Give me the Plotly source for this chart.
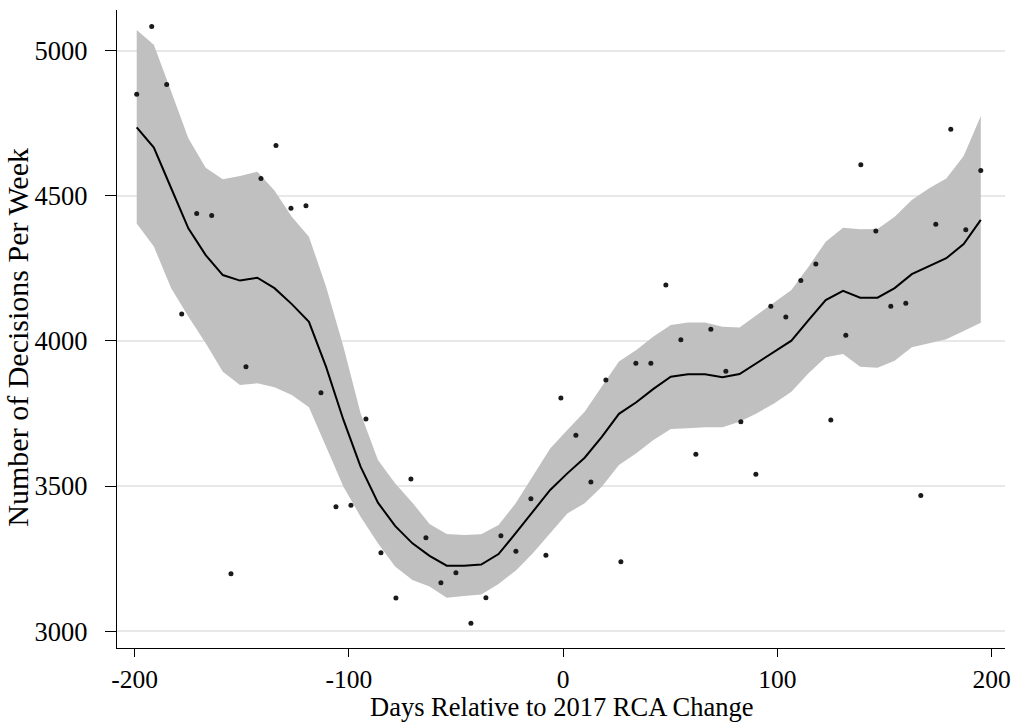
import plotly.graph_objects as go

# Weekly scatter observations
days = [-199, -192, -185, -178, -171, -164, -155, -148, -141, -134,
        -127, -120, -113, -106, -99, -92, -85, -78, -71, -64,
        -57, -50, -43, -36, -29, -22, -15, -8, -1, 6,
        13, 20, 27, 34, 41, 48, 55, 62, 69, 76,
        83, 90, 97, 104, 111, 118, 125, 132, 139, 146,
        153, 160, 167, 174, 181, 188, 195]
decisions = [4850, 5083, 4883, 4093, 4439, 4432, 3198, 3911, 4560, 4673,
             4457, 4466, 3822, 3429, 3434, 3731, 3271, 3115, 3525, 3322,
             3167, 3202, 3028, 3116, 3329, 3276, 3457, 3262, 3804, 3675,
             3514, 3866, 3240, 3923, 3923, 4193, 4004, 3610, 4040, 3896,
             3722, 3541, 4120, 4083, 4208, 4265, 3728, 4020, 4607, 4379,
             4120, 4130, 3468, 4402, 4729, 4383, 4587]

# Local polynomial fit grid (50 points) with confidence band
grid = [-199.0, -191.0, -182.9, -174.9, -166.8, -158.8, -150.8, -142.7, -134.7, -126.6,
        -118.6, -110.6, -102.5, -94.5, -86.4, -78.4, -70.3, -62.3, -54.3, -46.2,
        -38.2, -30.1, -22.1, -14.1, -6.0, 2.0, 10.1, 18.1, 26.1, 34.2,
        42.2, 50.3, 58.3, 66.3, 74.4, 82.4, 90.5, 98.5, 106.6, 114.6,
        122.6, 130.7, 138.7, 146.8, 154.8, 162.8, 170.9, 178.9, 187.0, 195.0]
fit = [4736, 4666, 4526, 4388, 4296, 4227, 4208, 4218, 4182, 4127,
       4066, 3911, 3728, 3567, 3443, 3363, 3303, 3260, 3226, 3226,
       3230, 3266, 3338, 3412, 3487, 3544, 3598, 3670, 3749, 3789,
       3835, 3877, 3885, 3885, 3875, 3886, 3925, 3963, 4001, 4072,
       4141, 4173, 4149, 4149, 4182, 4230, 4259, 4285, 4334, 4417]
ci_upper = [5071, 5020, 4859, 4698, 4597, 4557, 4568, 4583, 4518, 4428,
            4359, 4187, 3980, 3751, 3590, 3510, 3443, 3370, 3335, 3332,
            3334, 3366, 3441, 3533, 3630, 3693, 3756, 3843, 3929, 3969,
            4015, 4055, 4064, 4064, 4049, 4046, 4090, 4132, 4176, 4256,
            4342, 4390, 4385, 4386, 4428, 4486, 4526, 4560, 4637, 4775]
ci_lower = [4405, 4325, 4182, 4084, 3992, 3894, 3848, 3854, 3841, 3814,
            3772, 3636, 3498, 3395, 3303, 3223, 3177, 3154, 3116, 3122,
            3127, 3163, 3209, 3269, 3338, 3406, 3441, 3498, 3573, 3613,
            3659, 3697, 3699, 3703, 3703, 3722, 3751, 3785, 3825, 3889,
            3944, 3955, 3911, 3908, 3932, 3978, 3992, 4006, 4034, 4063]

x_ticks = [-200, -100, 0, 100, 200]
y_ticks = [3000, 3500, 4000, 4500, 5000]
x_title = "Days Relative to 2017 RCA Change"
y_title = "Number of Decisions Per Week"

FONT = "Liberation Serif, Times New Roman, serif"
FS = 26.5

fig = go.Figure()
fig.add_trace(go.Scatter(x=grid, y=ci_upper, mode="lines", line=dict(width=0),
                         hoverinfo="skip", showlegend=False))
fig.add_trace(go.Scatter(x=grid, y=ci_lower, mode="lines", line=dict(width=0),
                         fill="tonexty", fillcolor="#c0c0c0",
                         hoverinfo="skip", showlegend=False))
fig.add_trace(go.Scatter(x=days, y=decisions, mode="markers",
                         marker=dict(size=5, color="#1a1a1a"), showlegend=False))
fig.add_trace(go.Scatter(x=grid, y=fit, mode="lines",
                         line=dict(color="black", width=2), showlegend=False))

fig.update_layout(
    width=1014, height=723,
    margin=dict(l=117, r=9, t=10, b=75),
    paper_bgcolor="white", plot_bgcolor="white",
    font=dict(family=FONT, size=FS, color="black"),
    showlegend=False,
)
fig.update_xaxes(
    range=[-208.2, 206.3], tickvals=x_ticks, ticktext=[str(v) for v in x_ticks],
    showgrid=False, zeroline=False, automargin=False,
    showline=True, linecolor="black", linewidth=1.3,
    ticks="outside", ticklen=8, tickwidth=1.3, tickcolor="black",
    tickfont=dict(family=FONT, size=25.5),
)
fig.update_yaxes(
    range=[2942.5, 5140], tickvals=y_ticks, ticktext=[str(v) for v in y_ticks],
    showgrid=True, gridcolor="#e8e8e8", gridwidth=1.5, zeroline=False, automargin=False,
    showline=True, linecolor="black", linewidth=1.3,
    ticks="outside", ticklen=11, tickwidth=1.3, tickcolor="black",
    ticklabelstandoff=12,
    tickfont=dict(family=FONT, size=FS),
)
fig.add_annotation(
    text=x_title, showarrow=False,
    xref="paper", yref="paper", x=0.5, y=-75 / 638,
    xanchor="center", yanchor="bottom", borderpad=0,
    font=dict(family=FONT, size=FS, color="black"),
)
fig.add_annotation(
    text=y_title, textangle=-90, showarrow=False,
    xref="paper", yref="paper", x=-0.1115, y=0.488,
    xanchor="center", yanchor="middle",
    font=dict(family=FONT, size=30, color="black"),
)

fig.write_html("out.html")
